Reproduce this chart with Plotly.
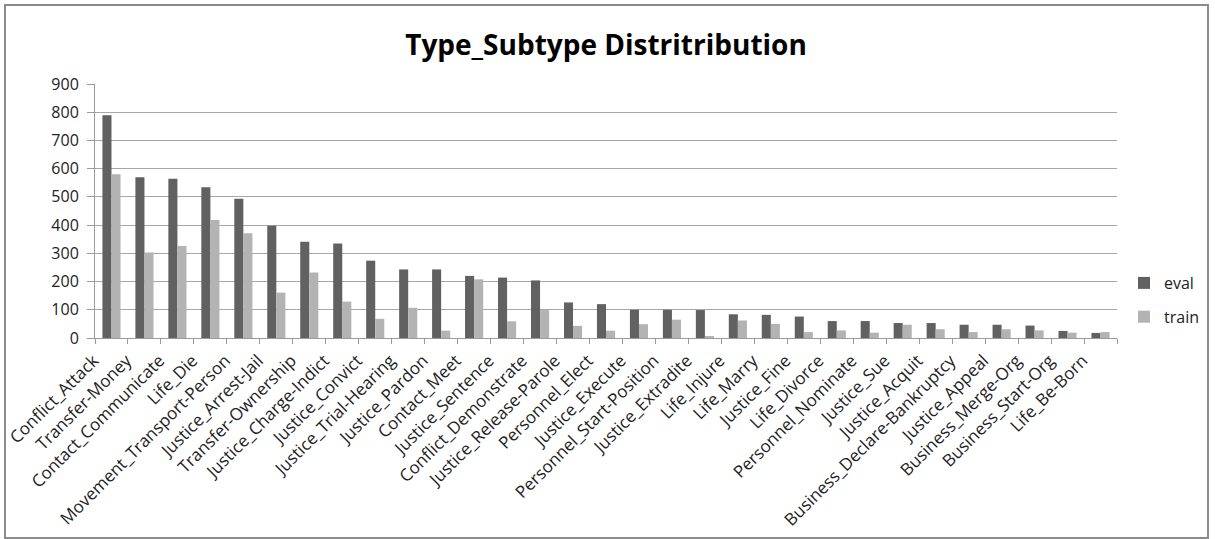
import plotly.graph_objects as go

categories = [
    "Conflict_Attack", "Transfer-Money", "Contact_Communicate", "Life_Die",
    "Movement_Transport-Person", "Justice_Arrest-Jail", "Transfer-Ownership",
    "Justice_Charge-Indict", "Justice_Convict", "Justice_Trial-Hearing",
    "Justice_Pardon", "Contact_Meet", "Justice_Sentence", "Conflict_Demonstrate",
    "Justice_Release-Parole", "Personnel_Elect", "Justice_Execute",
    "Personnel_Start-Position", "Justice_Extradite", "Life_Injure", "Life_Marry",
    "Justice_Fine", "Life_Divorce", "Personnel_Nominate", "Justice_Sue",
    "Justice_Acquit", "Business_Declare-Bankruptcy", "Justice_Appeal",
    "Business_Merge-Org", "Business_Start-Org", "Life_Be-Born",
]
eval_values = [789, 570, 564, 534, 493, 398, 341, 335, 274, 243,
               243, 220, 214, 204, 126, 120, 100, 100, 99, 84, 82,
               76, 60, 60, 53, 53, 47, 47, 44, 25, 18]
train_values = [580, 303, 326, 418, 371, 161, 232, 129, 68, 107,
                26, 208, 59, 99, 43, 26, 49, 65, 4, 62, 50,
                21, 27, 19, 47, 31, 21, 31, 27, 19, 21]
y_ticks = [0, 100, 200, 300, 400, 500, 600, 700, 800, 900]

FONT = "Open Sans"

fig = go.Figure()
fig.add_trace(go.Bar(name="eval", x=categories, y=eval_values, legendgroup="a",
                     marker=dict(color="#616161", line=dict(width=0))))
fig.add_trace(go.Bar(name="train", x=categories, y=train_values, legendgroup="b",
                     marker=dict(color="#b3b3b3", line=dict(width=0))))

L, R, T, B = 95, 98, 84, 201
W, H = 1215, 539
pw, ph = W - L - R, H - T - B

def px(x):
    return (x - L) / pw

def py(y):
    return (H - B - y) / ph

fig.update_layout(
    width=W, height=H,
    margin=dict(l=L, r=R, t=T, b=B, autoexpand=False),
    paper_bgcolor="white", plot_bgcolor="white",
    barmode="group", bargap=0.45, bargroupgap=0,
    font=dict(family=FONT, color="#222222"),
    title=dict(text="<b>Type_Subtype Distritribution</b>", x=0.5, xref="paper",
               xanchor="center", y=1 - 45 / H, yanchor="middle",
               font=dict(family=FONT, size=28, color="#000000")),
    showlegend=True,
    legend=dict(x=px(1124), y=py(300), xanchor="left", yanchor="middle",
                font=dict(family=FONT, size=16, color="#222222"),
                itemwidth=30, tracegroupgap=10, bgcolor="rgba(0,0,0,0)"),
    xaxis=dict(type="category", tickangle=-45, showgrid=False,
               showline=True, linecolor="#9a9a9a", linewidth=1,
               ticks="outside", tickson="boundaries", ticklen=5,
               tickcolor="#9a9a9a", ticklabelshift=-18, ticklabelstandoff=5,
               tickfont=dict(family=FONT, size=17, color="#222222")),
    yaxis=dict(range=[0, 900], tickvals=y_ticks, showgrid=True,
               gridcolor="#a6a6a6", gridwidth=1,
               showline=True, linecolor="#9a9a9a", linewidth=1,
               ticks="outside", ticklen=7, tickcolor="#9a9a9a",
               zeroline=False, ticklabelstandoff=5,
               tickfont=dict(family=FONT, size=16, color="#222222")),
    shapes=[dict(type="rect", xref="paper", yref="paper",
                 x0=px(5), x1=px(1208), y0=py(538), y1=py(5),
                 line=dict(color="#8c8c8c", width=2), layer="below")],
)

fig.write_html("out.html")
